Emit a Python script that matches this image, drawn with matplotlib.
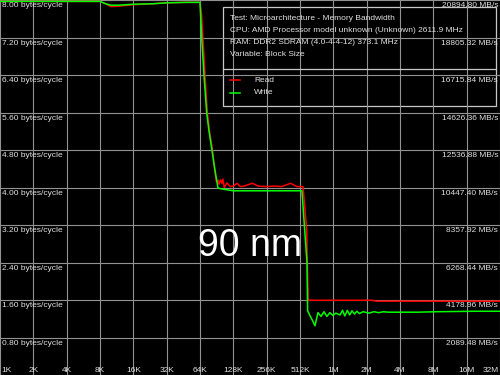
import matplotlib
matplotlib.use("Agg")
import matplotlib.pyplot as plt
import numpy as np

# block sizes in KB and bandwidth in bytes/cycle
read_kb = [1, 2, 4, 8, 9, 10, 12, 16, 24, 32, 48, 64, 66, 68, 71, 74.5, 78, 83, 87.5, 90,
           93, 95, 98, 101, 103, 106, 108, 112, 120, 128, 138, 148, 160, 190, 215, 256,
           300, 350, 420, 480, 545, 588, 606, 650, 800, 1000, 1500, 2000, 2300, 2500,
           4000, 8000, 16000, 32768]
read_val = [7.97, 7.97, 7.97, 7.97, 7.92, 7.86, 7.87, 7.90, 7.92, 7.94, 7.95, 7.95, 7.7,
            7.2, 6.4, 5.6, 5.2, 4.8, 4.3, 4.12, 4.16, 4.07, 4.16, 4.09, 4.18, 4.0, 4.03,
            4.1, 4.02, 4.03, 4.09, 4.02, 4.03, 4.09, 4.03, 4.02, 4.03, 4.02, 4.09, 4.02,
            4.02, 3.1, 1.594, 1.594, 1.594, 1.594, 1.594, 1.594, 1.594, 1.575, 1.575,
            1.575, 1.575, 1.575]

write_kb = [1, 2, 4, 8, 9, 10, 12, 16, 24, 32, 48, 64, 66.3, 69.5, 73.5, 77, 82, 87.4, 93,
            100, 128, 200, 256, 400, 512, 533, 592, 600, 635, 668, 699, 744, 792, 842, 896,
            954, 1015, 1080, 1176, 1240, 1300, 1370, 1437, 1510, 1590, 1670, 1758, 1900,
            2150, 2380, 2630, 2900, 3215, 3932, 5880, 8790, 13150, 19660, 32768]
write_val = [7.97, 7.97, 7.97, 7.97, 7.92, 7.89, 7.89, 7.91, 7.92, 7.94, 7.95, 7.95, 7.2,
             6.4, 5.6, 5.22, 4.8, 4.37, 3.99, 3.97, 3.93, 3.93, 3.93, 3.93, 3.93, 3.93,
             2.4, 1.37, 1.25, 1.15, 1.05, 1.33, 1.25, 1.35, 1.25, 1.33, 1.27, 1.32, 1.28,
             1.38, 1.26, 1.38, 1.28, 1.37, 1.30, 1.36, 1.31, 1.35, 1.32, 1.35, 1.33, 1.35,
             1.34, 1.34, 1.34, 1.35, 1.355, 1.36, 1.36]

cpu_mhz = 2611.85
y_ticks = [0.8, 1.6, 2.4, 3.2, 4.0, 4.8, 5.6, 6.4, 7.2, 8.0]
x_ticks = [2 ** i for i in range(16)]
x_labels = ["1K", "2K", "4K", "8K", "16K", "32K", "64K", "128K", "256K", "512K",
            "1M", "2M", "4M", "8M", "16M", "32M"]

info_lines = ["Test: Microarchitecture - Memory Bandwidth",
              "CPU: AMD Processor model unknown (Unknown) 2611.9 MHz",
              "RAM: DDR2 SDRAM (4.0-4-4-12) 373.1 MHz",
              "Variable: Block Size"]

W, H = 500, 375
txt_col = "#e0e0e0"
grid_col = "#929292"
font = "Liberation Sans"


def px(x, y):
    return x / W, 1 - y / H


fig = plt.figure(figsize=(5, 3.75), dpi=100, facecolor="black")
ax = fig.add_axes([0, 0, 1, 1])
ax.set_facecolor("black")
ax.set_xscale("log", base=2)
ax.set_xlim(1, 32768)
ax.set_ylim(0, 8.0)
ax.set_xticks(x_ticks)
ax.set_yticks(y_ticks)
ax.set_xticklabels([])
ax.set_yticklabels([])
ax.minorticks_off()
ax.tick_params(length=0)
ax.grid(True, color=grid_col, linewidth=0.8)
for s in ax.spines.values():
    s.set_visible(False)

ax.plot(read_kb, read_val, color="#ff0000", linewidth=1.1)
ax.plot(write_kb, write_val, color="#00ff00", linewidth=1.1)

# y labels
for v in y_ticks:
    ax.text(0.004, v - 0.045, f"{v:.2f} bytes/cycle", transform=ax.get_yaxis_transform(),
            ha="left", va="top", fontsize=6, color=txt_col, family=font)
    ax.text(0.996, v - 0.045, f"{v * cpu_mhz:.2f} MB/s", transform=ax.get_yaxis_transform(),
            ha="right", va="top", fontsize=6, color=txt_col, family=font)

# x labels
for i, (k, lab) in enumerate(zip(x_ticks, x_labels)):
    ha = "left" if i == 0 else ("right" if i == len(x_ticks) - 1 else "center")
    xx = k * (1.03 if i == 0 else 0.98 if i == len(x_ticks) - 1 else 1)
    ax.text(xx, 0.004, lab, transform=ax.get_xaxis_transform(), ha=ha, va="bottom",
            fontsize=6, color=txt_col, family=font)

# info / legend box
x0, y0 = px(223, 7)
x1, y1 = px(496, 106)
box = plt.Rectangle((x0, y1), x1 - x0, y0 - y1, transform=ax.transAxes, fill=False,
                    edgecolor="#c8c8c8", linewidth=0.9)
ax.add_patch(box)
ax.plot([x0, x1], [px(0, 69)[1]] * 2, transform=ax.transAxes, color="#c8c8c8", linewidth=0.9)
for i, line in enumerate(info_lines):
    ax.text(*px(230, 18 + 12.3 * i), line, transform=ax.transAxes, ha="left", va="center",
            fontsize=6, color=txt_col, family=font)
for i, (lab, col) in enumerate([("Read", "#ff0000"), ("Write", "#00ff00")]):
    yy = px(0, 80 + 12.5 * i)[1]
    ax.plot([px(230, 0)[0], px(240, 0)[0]], [yy, yy], transform=ax.transAxes, color=col,
            linewidth=1.1)
    ax.text(px(254, 0)[0], yy, lab, transform=ax.transAxes, ha="left", va="center",
            fontsize=6, color=txt_col, family=font)

ax.text(*px(250, 246), "90 nm", transform=ax.transAxes, ha="center", va="center",
        fontsize=27, color="white", family=font)

fig.savefig("out.png", dpi=100, facecolor="black")
